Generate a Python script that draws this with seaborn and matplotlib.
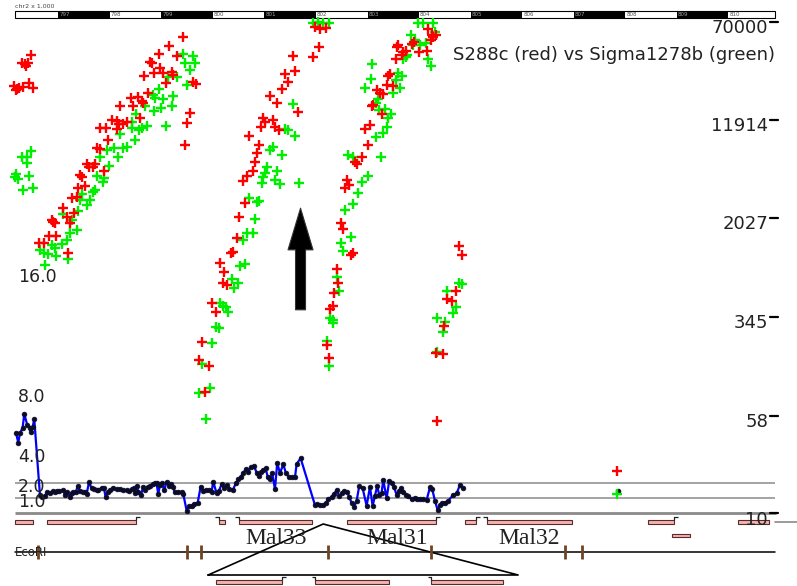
import matplotlib
matplotlib.use("Agg")
import matplotlib.pyplot as plt
import seaborn as sns
import pandas as pd
from matplotlib.patches import Rectangle

# ---------------------------------------------------------------- data
# probe intensities on chr2 (positions in kb), S288c (red) and Sigma1278b (green)
red_pos = [
    796.470, 796.289, 796.353, 796.417, 796.372, 796.140, 796.192, 796.243, 796.308, 796.437, 796.514, 796.178,
    799.413, 799.153, 798.953, 799.308, 798.778, 798.811, 798.972, 798.668, 798.856, 799.024, 799.199, 799.230,
    799.088, 799.607, 799.671, 799.554, 799.502, 799.463, 798.734, 798.404, 798.540, 798.617, 798.454, 798.648,
    798.196, 798.584, 798.035, 798.132, 798.326, 798.260, 798.183, 797.808, 797.924, 798.144, 797.969, 797.756,
    797.808, 797.562, 797.711, 797.666, 797.601, 797.886, 797.420, 797.453, 797.387, 797.517, 797.259, 797.356,
    797.096, 797.304, 797.162, 796.871, 796.935, 796.902, 797.226, 796.825, 796.954, 796.631, 796.722, 797.193,
    801.979, 802.076, 802.192, 801.547, 801.946, 802.051, 801.592, 801.397, 801.449, 801.333, 801.106, 801.236,
    801.655, 800.964, 801.009, 801.170, 800.931, 801.203, 801.287, 800.705, 800.893, 800.860, 800.815, 800.771,
    800.654, 800.577, 800.621, 800.511, 800.472, 800.394, 800.350, 800.136, 800.220, 800.189, 800.278, 799.975,
    800.059, 799.781, 799.735, 799.929, 799.845,
    803.595, 803.576, 803.692, 803.744, 803.855, 803.906, 804.003, 804.146, 804.177, 804.243, 804.274, 804.321,
    804.224, 803.550, 803.661, 803.434, 803.401, 803.370, 803.498, 803.176, 803.240, 803.292, 803.098, 803.079,
    803.273, 803.046, 802.949, 803.013, 802.885, 802.755, 802.788, 802.594, 802.645, 802.561, 802.478, 802.528,
    802.711, 802.672, 802.400, 802.431, 802.348, 802.322, 802.270, 802.206, 802.257,
    804.779, 804.825, 804.714, 804.546, 804.631, 804.482, 804.327, 804.456, 804.340,
    807.840,
]
red_val = [
    38300, 33100, 32600, 33100, 31400, 21900, 20700, 21100, 21500, 23100, 21100, 20400,
    52900, 45000, 39000, 37600, 33800, 33100, 30300, 26200, 27700, 27700, 28200, 26700,
    23100, 23500, 22700, 13400, 11300, 7590, 19300, 17700, 18000, 16800, 15300, 16200,
    15300, 12300, 11900, 11700, 11500, 11100, 11100, 10300, 10300, 10100, 8300, 7190,
    7060, 5380, 5380, 5100, 5100, 4750, 4420, 4260, 3500, 3620, 2920, 2970,
    2440, 2230, 2070, 1970, 1870, 1900, 1870, 1470, 1470, 1300, 1300, 1090,
    63300, 61100, 62300, 37600, 36900, 44200, 28700, 27200, 23500, 20700, 18300, 16200,
    13700, 12300, 11500, 11900, 10500, 10500, 9930, 8910, 7590, 6560, 5590, 4750,
    4340, 3970, 2670, 2070, 1420, 1110, 1090, 907, 772, 633, 611, 441,
    376, 219, 158, 142, 89,
    45900, 44200, 40400, 41100, 46700, 48400, 40400, 41100, 61100, 54900, 52900, 54900,
    50200, 35600, 38300, 27200, 26200, 22300, 21900, 20400, 19300, 19000, 15600, 15300,
    13200, 10900, 10100, 7590, 6100, 5590, 5380, 4040, 3690, 3500, 1870, 1670,
    1090, 1050, 814, 633, 528, 418, 396, 207, 165,
    1230, 1050, 548, 474, 458, 292, 180, 177, 53,
    21.5,
]
green_pos = [
    796.470, 796.289, 796.398, 796.386, 796.159, 796.211, 796.437, 796.503, 796.308, 796.178,
    799.413, 799.607, 799.457, 799.651, 799.554, 799.490, 799.219, 799.199, 799.036, 798.959, 798.875, 798.831,
    798.986, 798.856, 799.308, 799.133, 798.681, 798.506, 798.714, 798.617, 798.571, 799.088, 798.423, 798.423,
    798.196, 798.487, 798.326, 798.152, 798.249, 798.086, 797.938, 797.808, 797.989, 797.756, 797.886, 797.872,
    797.711, 797.678, 797.453, 797.614, 797.562, 797.420, 797.387, 797.084, 797.259, 797.356, 797.226, 797.162,
    797.065, 796.871, 796.935, 796.644, 796.722, 796.805, 796.954, 797.193, 796.741,
    801.940, 802.037, 802.134, 802.252, 801.558, 801.397, 801.461, 801.592, 801.106, 801.170, 801.345, 801.042,
    801.236, 801.009, 800.976, 800.945, 801.203, 801.300, 801.669, 800.705, 800.860, 800.899, 800.815, 800.654,
    800.771, 800.577, 800.524, 800.621, 800.363, 800.479, 800.408, 800.136, 800.200, 800.252, 800.297, 800.059,
    800.117, 799.975, 799.781, 799.942, 799.735, 799.865,
    803.983, 804.080, 804.274, 804.307, 803.836, 803.919, 804.016, 804.132, 803.886, 803.758, 803.680, 804.177,
    804.224, 803.744, 803.079, 803.060, 802.949, 803.595, 803.550, 803.661, 803.628, 803.486, 803.208, 803.163,
    803.337, 803.448, 803.401, 803.227, 803.370, 803.304, 803.163, 802.625, 802.722, 803.259, 803.013, 802.885,
    802.808, 802.711, 802.561, 802.672, 802.478, 802.528, 802.400, 802.451, 802.270, 802.322, 802.322, 802.206,
    802.251,
    804.779, 804.825, 804.546, 804.714, 804.651, 804.352, 804.501, 804.456, 804.340,
    807.840,
]
green_val = [
    6810, 6100, 6100, 5480, 4260, 4110, 4340, 3500, 3370, 4500,
    39000, 37600, 33100, 33100, 29200, 22300, 18300, 15300, 17300, 20700, 17700, 18600,
    14800, 13900, 25700, 25700, 15300, 13200, 10700, 10300, 9930, 10700, 11500, 10300,
    9230, 8300, 7310, 6100, 7190, 7190, 6930, 6100, 5190, 4340, 4190, 3900,
    3370, 3250, 3130, 2820, 2580, 2820, 2310, 2190, 1970, 1640, 1550, 1370,
    1270, 1250, 1190, 1150, 1090, 1070, 1030, 978, 876,
    68100, 69400, 68100, 68100, 15900, 10100, 9930, 8910, 6930, 7310, 6330, 5100,
    4750, 4580, 4260, 3830, 4040, 3760, 3830, 2920, 2720, 2770, 2000, 1550,
    1550, 1370, 859, 891, 680, 633, 578, 441, 418, 411, 376, 287,
    282, 215, 147, 96, 87, 54.5,
    68100, 68100, 68100, 58000, 54900, 50200, 45900, 47500, 45900, 38300, 35600, 35600,
    31400, 36900, 32600, 24800, 21100, 27700, 24400, 26200, 21100, 19300, 17300, 16200,
    14500, 13200, 12300, 14200, 10500, 9400, 8750, 6330, 6100, 6100, 4340, 3900,
    3190, 2620, 2350, 1440, 1300, 1130, 705, 548, 338, 326, 309, 223,
    142,
    633, 621, 548, 411, 369, 338, 315, 262, 183,
    14.1,
]

# red/green ratio along the probed stretch
ratio_pos = [
    796.179, 796.223, 796.256, 796.308, 796.340, 796.398, 796.450, 796.470, 796.503, 796.534,
    796.644, 796.677, 796.741, 796.786, 796.838, 796.891, 796.935, 796.968, 797.019, 797.096,
    797.129, 797.174, 797.226, 797.259, 797.290, 797.343, 797.376, 797.420, 797.473, 797.517,
    797.550, 797.595, 797.647, 797.698, 797.744, 797.775, 797.841, 797.886, 797.919, 797.958,
    798.002, 798.066, 798.132, 798.196, 798.260, 798.326, 798.371, 798.423, 798.468, 798.487,
    798.520, 798.551, 798.604, 798.648, 798.681, 798.734, 798.778, 798.831, 798.875, 798.908,
    798.939, 798.972, 799.005, 799.056, 799.102, 799.147, 799.186, 799.219, 799.263, 799.327,
    799.393, 799.424, 799.490, 799.535, 799.587, 799.638, 799.704, 799.762, 799.812, 799.865,
    799.923, 799.975, 800.006, 800.072, 800.117, 800.169, 800.214, 800.266, 800.317, 800.383,
    800.447, 800.492, 800.544, 800.589, 800.641, 800.686, 800.732, 800.796, 800.849, 800.893,
    800.932, 800.977, 801.023, 801.062, 801.107, 801.151, 801.204, 801.248, 801.301, 801.365,
    801.417, 801.481, 801.539, 801.592, 801.625, 801.702,
    801.980, 802.024, 802.077, 802.129, 802.193, 802.238, 802.304, 802.348, 802.401, 802.451,
    802.498, 802.548, 802.595, 802.645, 802.692, 802.742, 802.789, 802.839, 802.905, 802.983,
    803.047, 803.099, 803.144, 803.188, 803.227, 803.274, 803.305, 803.371, 803.421, 803.468,
    803.512, 803.565, 803.609, 803.648, 803.693, 803.745, 803.790, 803.856, 803.920, 803.965,
    804.017, 804.069, 804.147, 804.211, 804.256, 804.308, 804.360, 804.405, 804.450, 804.502,
    804.566, 804.663, 804.729, 804.793, 804.857,
]
ratio_val = [
    5.37, 4.71, 5.33, 5.71, 6.62, 5.89, 5.71, 5.44, 5.78, 6.27,
    1.22, 1.11, 1.18, 1.40, 1.33, 1.49, 1.40, 1.49, 1.49, 1.55,
    1.22, 1.44, 1.11, 1.33, 1.40, 1.44, 1.82, 1.49, 1.40, 1.40,
    1.27, 2.07, 1.67, 1.60, 1.55, 1.55, 1.71, 1.67, 1.07, 1.44,
    1.55, 1.71, 1.60, 1.62, 1.55, 1.55, 1.49, 1.62, 1.67, 1.33,
    1.84, 1.44, 1.22, 1.77, 1.55, 1.77, 1.84, 1.93, 2.00, 2.00,
    1.27, 1.89, 2.04, 1.55, 2.11, 1.82, 1.93, 1.77, 1.40, 1.44,
    1.42, 1.30, 0.18, 0.48, 0.50, 0.64, 0.69, 1.77, 1.50, 1.52,
    1.55, 1.44, 2.11, 1.33, 1.51, 1.93, 1.67, 1.89, 1.60, 1.55,
    2.00, 2.27, 2.44, 2.71, 2.93, 2.77, 3.07, 3.15, 2.71, 2.49,
    2.77, 2.89, 3.00, 2.44, 2.27, 2.67, 1.60, 3.37, 2.67, 3.27,
    2.67, 2.40, 2.40, 2.40, 3.29, 3.67,
    0.55, 0.63, 0.58, 0.52, 0.71, 0.93, 1.11, 1.29, 1.55, 1.15,
    1.33, 1.51, 1.44, 1.11, 0.67, 0.44, 0.84, 1.82, 1.67, 0.49,
    1.77, 0.49, 1.15, 1.82, 1.22, 1.38, 2.22, 1.00, 2.18, 2.04,
    1.77, 1.22, 1.51, 1.67, 1.44, 1.22, 1.15, 0.93, 1.04, 0.93,
    0.93, 0.93, 0.89, 1.73, 1.60, 0.84, 0.22, 0.55, 0.67, 0.71,
    0.84, 1.22, 1.33, 1.89, 1.67,
]
lone_ratio_pos = [807.864]
lone_ratio_val = [1.51]

log_ticks = [70000, 11914, 2027, 345, 58, 10]
ratio_ticks = [16.0, 8.0, 4.0, 2.0, 1.0]
ratio_guides = [1.0, 2.0]

region = (796.16, 810.906)
ruler_ticks = list(range(797, 811))

# gene models: start, end (kb), strand (+1/-1/0), track row
gene_start = [796.159, 796.780, 800.117, 800.505, 802.600, 804.893, 805.316, 808.444, 810.190,
              808.909, 800.059, 801.983, 804.234]
gene_end = [796.508, 798.507, 800.233, 801.921, 804.331, 805.107, 806.969, 808.948, 810.791,
            809.258, 801.343, 803.419, 805.633]
gene_strand = [0, 1, -1, -1, 1, 1, -1, 1, 0, 0, 1, -1, -1]
gene_row = [0, 0, 0, 0, 0, 0, 0, 0, 0, 1, 2, 2, 2]
gene_names = ["Mal33", "Mal31", "Mal32"]
gene_name_pos = [801.22, 803.57, 806.13]

ecori_sites = [796.605, 799.496, 799.768, 802.232, 804.234, 806.833, 807.163]
zoom_apex = 802.140
zoom_base = (799.907, 805.922)

# ---------------------------------------------------------------- figure
sns.set_theme(style="white")
plt.rcParams["font.family"] = ["DejaVu Sans"]

W, H = 797, 586
fig = plt.figure(figsize=(W / 100, H / 100), dpi=100)
fig.patch.set_facecolor("white")

XLIM = (795.869, 811.333)
PX_UNIT = 15.0          # pixels per ratio unit
PX_DECADE = 127.9       # pixels per decade of intensity
BASE_PX = 513.3         # shared baseline of ratio (0) and intensity (10) panels

ax_track = fig.add_axes([0, 0, 1, 1], label="track")
ax_ratio = fig.add_axes([0, 0, 1, 1], label="ratio")
ax_log = fig.add_axes([0, 0, 1, 1], label="intensity")
for ax in (ax_track, ax_ratio, ax_log):
    ax.patch.set_alpha(0)

# ---------------- tracks (ruler, genes, restriction sites)
ROW_Y = {0: 522.0, 1: 535.5, 2: 582.0}
BAR_H = 3.4

edges = [region[0]] + ruler_ticks + [region[1]]
for i in range(len(edges) - 1):
    ax_track.add_patch(Rectangle((edges[i], 10.7), edges[i + 1] - edges[i], 7.6,
                                 fc="white" if i % 2 == 0 else "black", ec="none"))
ax_track.add_patch(Rectangle((region[0], 10.7), region[1] - region[0], 7.6,
                             fc="none", ec="black", lw=0.8))
for k in ruler_ticks:
    on_black = (k - 797) % 2 == 0
    ax_track.text(k + 0.02, 14.8, str(k), fontsize=4, va="center", ha="left",
                  color="#a0a0a0" if on_black else "#505050")
ax_track.text(region[0], 6.3, "chr2 x 1,000", fontsize=4.5, va="center", ha="left", color="#444444")

for s, e, strand, row in zip(gene_start, gene_end, gene_strand, gene_row):
    y = ROW_Y[row]
    ax_track.add_patch(Rectangle((s, y - BAR_H / 2), e - s, BAR_H,
                                 fc="#f4b4b0", ec="#5a2a2a", lw=0.8, zorder=3))
    if strand != 0:
        x0 = e if strand > 0 else s
        ax_track.plot([x0, x0, x0 + strand * 0.07], [y - BAR_H / 2, y - BAR_H / 2 - 3.0, y - BAR_H / 2 - 3.0],
                      color="#222222", lw=0.9, zorder=4, solid_capstyle="butt")

for name, x in zip(gene_names, gene_name_pos):
    ax_track.text(x, 538.5, name, fontsize=17, ha="center", va="center",
                  family=["Liberation Serif"], color="#222222")

ax_track.plot(region, [551.7, 551.7], color="black", lw=1.1, zorder=2)
ax_track.vlines(ecori_sites, 545.0, 558.5, color="#6e4424", lw=2.0, zorder=3)
ax_track.text(region[0], 552.5, "EcoRI", fontsize=8.5, ha="left", va="center", color="#222222", zorder=4)

ax_track.plot([zoom_base[0], zoom_apex, zoom_base[1], zoom_base[0]], [575, 524, 575, 575],
              color="black", lw=1.2, zorder=2)
ax_track.plot([region[1], XLIM[1]], [521.7, 521.7], color="#8a8a8a", lw=1.2)

ax_track.text(region[1], 55, "S288c (red) vs Sigma1278b (green)", fontsize=13,
              ha="right", va="center", color="#222222")

# ---------------- ratio panel
ax_ratio.hlines(ratio_guides, region[0], region[1], color="#8a8a8a", lw=1.1, zorder=1)
ax_ratio.hlines([0], region[0], region[1] + 0.02, color="#8a8a8a", lw=2.0, zorder=1)
ratio_df = pd.DataFrame({"pos": ratio_pos, "ratio": ratio_val})
sns.lineplot(data=ratio_df, x="pos", y="ratio", ax=ax_ratio, sort=False, estimator=None,
             color="#0000ff", lw=1.6, marker="o", markersize=3.4,
             markerfacecolor="#0b0b22", markeredgecolor="#0b0b33", markeredgewidth=0.5, zorder=3)
sns.scatterplot(x=lone_ratio_pos, y=lone_ratio_val, ax=ax_ratio, color="#0b0b22", s=12,
                edgecolor="#0b0b33", linewidth=0.5, zorder=3, legend=False)
for v in ratio_ticks:
    ax_ratio.annotate(f"{v:.1f}", (796.22, v), xytext=(0, -2.5), textcoords="offset points",
                      fontsize=12.5, ha="left", va="center", color="#222222", zorder=5)

# ---------------- intensity panel (log scale)
ax_log.set_yscale("log")
green_df = pd.DataFrame({"pos": green_pos, "signal": green_val})
red_df = pd.DataFrame({"pos": red_pos, "signal": red_val})
sns.scatterplot(data=green_df, x="pos", y="signal", ax=ax_log, marker="+", color="#00ee00",
                s=44, linewidth=1.7, legend=False, zorder=4)
sns.scatterplot(data=red_df, x="pos", y="signal", ax=ax_log, marker="+", color="#ff0000",
                s=44, linewidth=1.7, legend=False, zorder=5)
for v in log_ticks:
    ax_log.annotate(str(v), (810.77, v), xytext=(0, 2), textcoords="offset points",
                    fontsize=13, ha="right", va="top", color="#222222")
    ax_log.plot([810.81, 810.965], [v, v], color="black", lw=1.6)

ax_log.annotate("", xy=(801.70, 2430), xytext=(801.70, 390),
                arrowprops=dict(facecolor="black", edgecolor="#333333", width=7.2,
                                headwidth=18, headlength=30, shrink=0, lw=0.8))

# ---------------- shared geometry
ax_track.set_ylim(H, 0)
ax_ratio.set_ylim((BASE_PX - H) / PX_UNIT, BASE_PX / PX_UNIT)
ax_log.set_ylim(10 ** (1 + (BASE_PX - H) / PX_DECADE), 10 ** (1 + BASE_PX / PX_DECADE))
for ax in (ax_track, ax_ratio, ax_log):
    ax.set_xlim(XLIM)
    ax.axis("off")

fig.savefig("out.png", dpi=100)
